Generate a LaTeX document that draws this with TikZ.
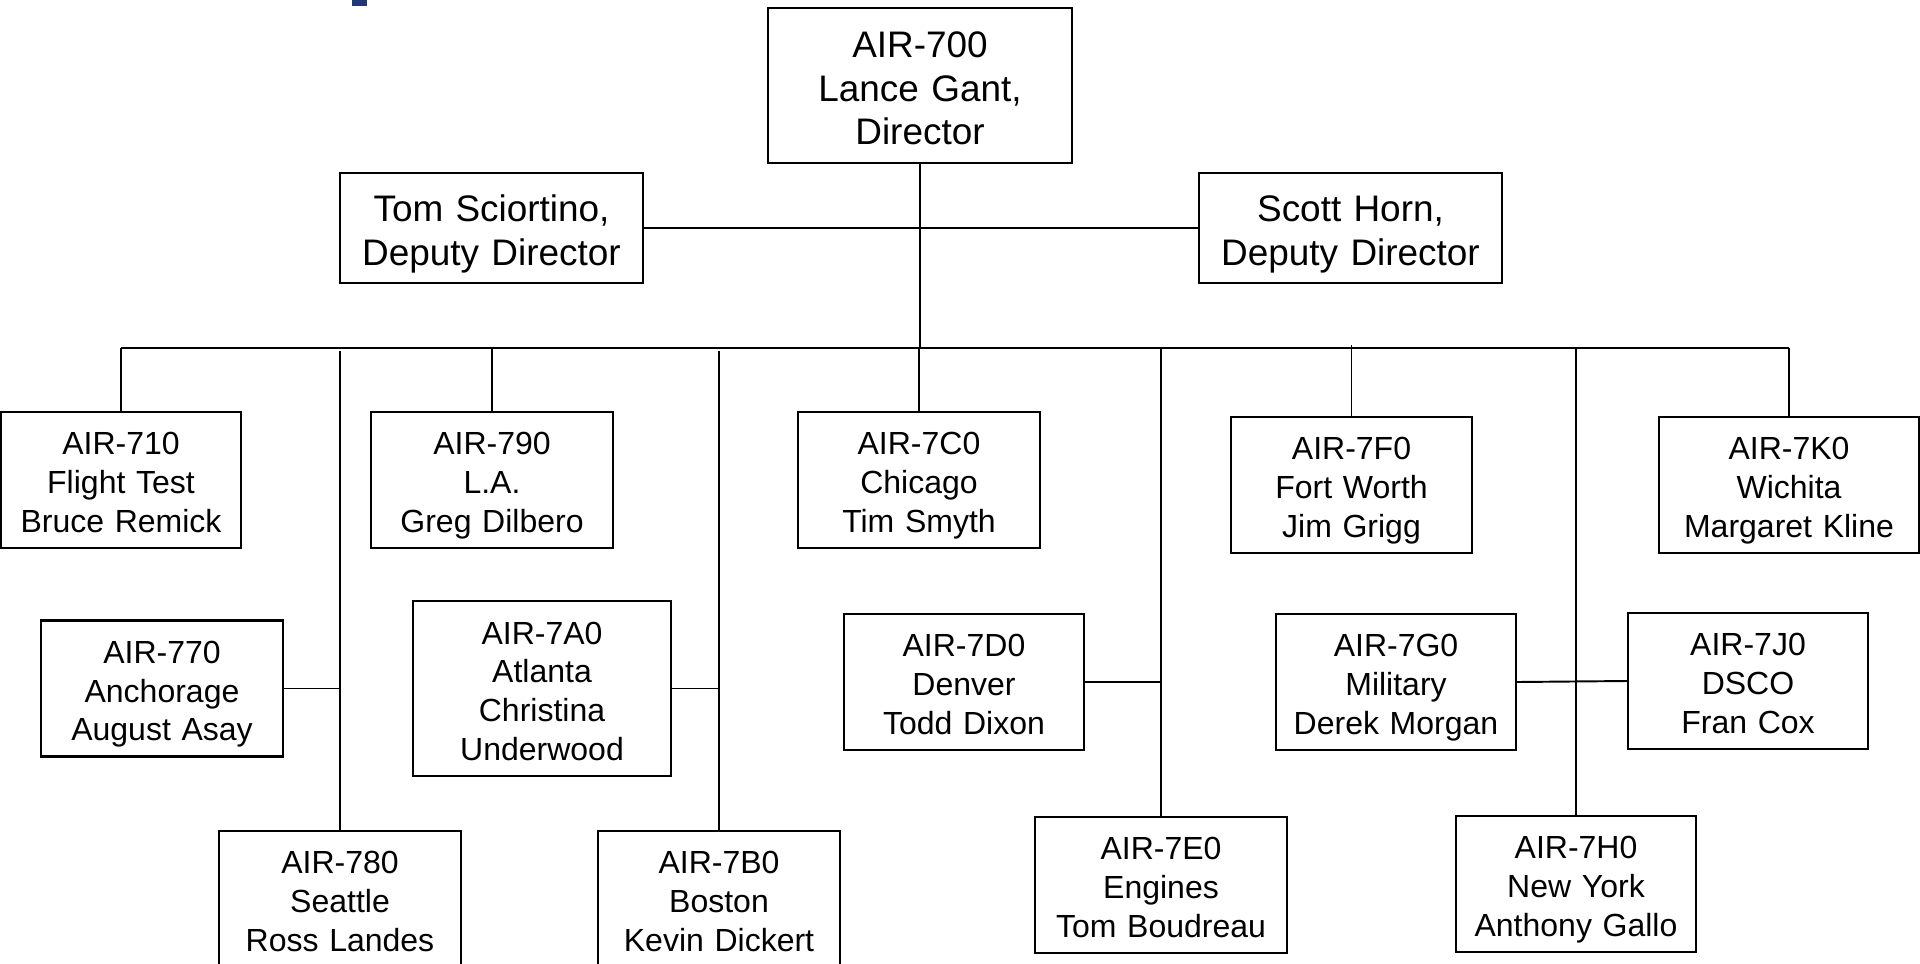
\documentclass[tikz,border=0pt]{standalone}
\usepackage{fontspec}
\setmainfont{Liberation Sans}
\usetikzlibrary{positioning}
\definecolor{titleblue}{RGB}{33,55,125}
\newcommand{\topstrut}{\rule{0pt}{1.1em}}
\newcommand{\botstrut}{\rule[-0.25em]{0pt}{0.25em}}

\begin{document}
\begin{tikzpicture}[x=0.01cm,y=-0.01cm,
  headbox/.style={draw,line width=0.6pt,align=center,inner sep=0pt,text width=2.9cm,minimum width=3.03cm,font=\fontsize{10.5}{12.4}\selectfont,execute at begin node=\topstrut,execute at end node=\botstrut},
  unitbox/.style={draw,line width=0.6pt,align=center,inner sep=0pt,text width=2.3cm,minimum width=2.41cm,minimum height=1.36cm,font=\fontsize{9.1}{11.0}\selectfont,execute at begin node=\topstrut,execute at end node=\botstrut},
  link/.style={line width=0.55pt}]
\clip (0,0) rectangle (1920,963);
\fill[titleblue] (352,0) rectangle (367,6);

\node[headbox,minimum height=1.55cm] (dir) at (920,85.5) {AIR-700\\Lance Gant,\\Director};
\node[headbox,minimum height=1.10cm] (depL) at (491.5,228) {Tom Sciortino,\\Deputy Director};
\node[headbox,minimum height=1.10cm] (depR) at (1350.5,228) {Scott Horn,\\Deputy Director};

\node[unitbox,minimum width=2.40cm] (a710) at (121,480) {AIR-710\\Flight Test\\Bruce Remick};
\node[unitbox] (a790) at (492,480) {AIR-790\\L.A.\\Greg Dilbero};
\node[unitbox] (a7C0) at (919,480) {AIR-7C0\\Chicago\\Tim Smyth};
\node[unitbox] (a7F0) at (1351.5,485) {AIR-7F0\\Fort Worth\\Jim Grigg};
\node[unitbox,minimum width=2.60cm] (a7K0) at (1789,485) {AIR-7K0\\Wichita\\Margaret Kline};

\node[unitbox] (a770) at (162,688.5) {AIR-770\\Anchorage\\August Asay};
\node[unitbox,minimum width=2.58cm,minimum height=1.75cm] (a7A0) at (542,688.5) {AIR-7A0\\Atlanta\\Christina\\Underwood};
\node[unitbox,minimum width=2.40cm] (a7D0) at (964,682) {AIR-7D0\\Denver\\Todd Dixon};
\node[unitbox,minimum width=2.40cm] (a7G0) at (1396,682) {AIR-7G0\\Military\\Derek Morgan};
\node[unitbox,minimum width=2.40cm] (a7J0) at (1748,681) {AIR-7J0\\DSCO\\Fran Cox};

\node[unitbox] (a780) at (340,899) {AIR-780\\Seattle\\Ross Landes};
\node[unitbox] (a7B0) at (719,899) {AIR-7B0\\Boston\\Kevin Dickert};
\node[unitbox,minimum width=2.52cm] (a7E0) at (1161,885) {AIR-7E0\\Engines\\Tom Boudreau};
\node[unitbox,minimum width=2.40cm] (a7H0) at (1576,884) {AIR-7H0\\New York\\Anthony Gallo};

\coordinate (busL) at (121,348);
\coordinate (busR) at (1789,348);
\coordinate (gap) at (0,351);

\draw[link] (dir.south) -- (dir.south |- busL);
\draw[link] (depL.east) -- (depR.west);
\draw[link] (busL) -- (busR);
\draw[link] (a710.north) -- (a710.north |- busL);
\draw[link] (a790.north) -- (a790.north |- busL);
\draw[link] (a7C0.north) -- (a7C0.north |- busL);
\draw[link] (a7F0.north) -- ++(0,-71);
\draw[link] (a7K0.north) -- (a7K0.north |- busL);

\draw[link] (a780.north) -- (a780.north |- gap);
\draw[link] (a7B0.north) -- (a7B0.north |- gap);
\draw[link] (a7E0.north) -- (a7E0.north |- busL);
\draw[link] (a7H0.north) -- (a7H0.north |- busL);

\draw[link] (a770.east) -- (a770.east -| a780.north);
\draw[link] (a7A0.east) -- (a7A0.east -| a7B0.north);
\draw[link] (a7D0.east) -- (a7D0.east -| a7E0.north);
\draw[link] (a7G0.east) -- (a7J0.west);

\end{tikzpicture}
\end{document}
